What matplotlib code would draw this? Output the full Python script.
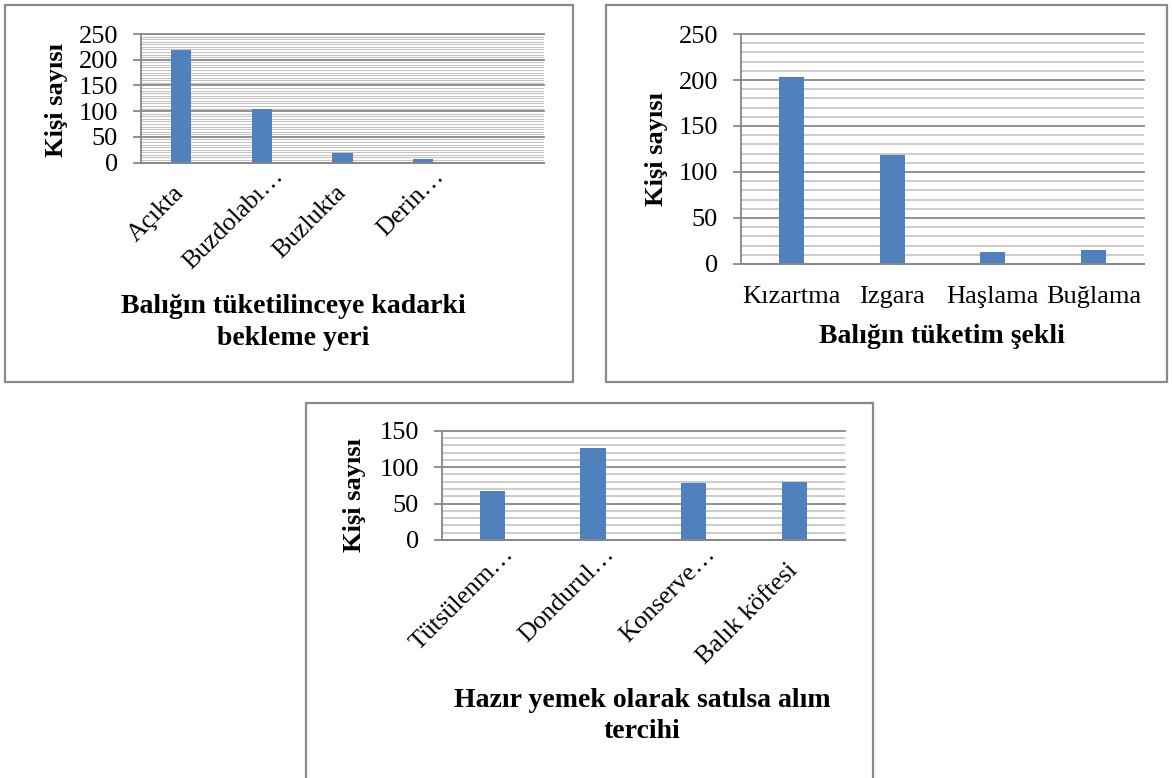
import matplotlib.pyplot as plt
import numpy as np
from matplotlib.ticker import MultipleLocator
from matplotlib.transforms import ScaledTranslation
from matplotlib.patches import Rectangle

plt.rcParams['font.family'] = ['Liberation Serif', 'DejaVu Serif']

# data
bekleme_yeri = ['Açıkta', 'Buzdolabı…', 'Buzlukta', 'Derin…']
bekleme_sayi = [218, 104, 18, 7]
tuketim_sekli = ['Kızartma', 'Izgara', 'Haşlama', 'Buğlama']
tuketim_sayi = [203, 119, 13, 15]
hazir_yemek = ['Tütsülenm…', 'Dondurul…', 'Konserve…', 'Balık köftesi']
hazir_sayi = [67, 126, 78, 79]

W, H = 1172, 778
fig = plt.figure(figsize=(W / 100, H / 100), dpi=100)

BLUE = '#4f81bd'
GRID_MAJ = '#878787'
GRID_MIN = '#c4c4c4'


def fx(x):
    return x / W


def fy(y):
    return 1 - y / H


def px_axes(l, t, r, b):
    return fig.add_axes([fx(l), fy(b), (r - l) / W, (b - t) / H])


def panel(l, t, r, b):
    fig.add_artist(Rectangle((fx(l), fy(b)), (r - l) / W, (b - t) / H,
                             transform=fig.transFigure, fill=False,
                             edgecolor='#8a8a8a', lw=1.6))


def bar_chart(ax, cats, vals, ymax, major, minor, n_slots, minor_lw=1.2):
    x = np.arange(len(cats))
    ax.set_axisbelow(True)
    ax.bar(x, vals, width=0.25, color=BLUE, zorder=2)
    ax.set_xlim(-0.5, n_slots - 0.5)
    ax.set_ylim(0, ymax)
    ax.yaxis.set_major_locator(MultipleLocator(major))
    ax.yaxis.set_minor_locator(MultipleLocator(minor))
    ax.grid(which='minor', axis='y', color=GRID_MIN, lw=minor_lw)
    ax.grid(which='major', axis='y', color=GRID_MAJ, lw=1.3)
    for gl in ax.get_ygridlines():
        gl.set_clip_on(False)
    for s in ['top', 'right']:
        ax.spines[s].set_visible(False)
    for s in ['left', 'bottom']:
        ax.spines[s].set_color(GRID_MAJ)
        ax.spines[s].set_linewidth(1.3)
    ax.tick_params(axis='y', which='major', length=6, width=1.3,
                   color=GRID_MAJ, pad=10.5, labelsize=19)
    ax.tick_params(axis='y', which='minor', length=0)
    ax.tick_params(axis='x', length=0)
    ax.set_xticks(x)


def rotated_labels(ax, cats):
    ax.set_xticklabels(cats, rotation=45, ha='right', va='baseline',
                       rotation_mode='anchor', fontsize=18.5)
    ax.tick_params(axis='x', pad=0)
    for lab in ax.get_xticklabels():
        if lab.get_text().endswith('…'):
            dx, dy = 22, 15
        else:
            dx, dy = 4, 31
        lab.set_transform(lab.get_transform() +
                          ScaledTranslation(dx / 100, -dy / 100, fig.dpi_scale_trans))


def ylabel(x, y):
    fig.text(fx(x), fy(y), 'Kişi sayısı', rotation=90, ha='center', va='center',
             fontsize=19, fontweight='bold')


def title_line(x, y, s):
    fig.text(fx(x), fy(y), s, ha='center', va='baseline', fontsize=20,
             fontweight='bold')


# panel 1
panel(5, 4.7, 573, 382)
ax1 = px_axes(141, 34, 544, 162.5)
bar_chart(ax1, bekleme_yeri, bekleme_sayi, 250, 50, 5, 5, minor_lw=0.8)
rotated_labels(ax1, bekleme_yeri)
ylabel(56, 100)
title_line(293, 313, 'Balığın tüketilinceye kadarki')
title_line(293, 345, 'bekleme yeri')

# panel 2
panel(606, 4.7, 1167, 382)
ax2 = px_axes(741, 34, 1144, 264)
bar_chart(ax2, tuketim_sekli, tuketim_sayi, 250, 50, 10, 4)
ax2.set_xticklabels(tuketim_sekli, fontsize=19)
ax2.tick_params(axis='x', pad=16)
ylabel(656.5, 149)
title_line(942, 343, 'Balığın tüketim şekli')

# panel 3
panel(306, 402.7, 873, 800)
ax3 = px_axes(441.7, 430.7, 845, 540)
bar_chart(ax3, hazir_yemek, hazir_sayi, 150, 50, 10, 4)
rotated_labels(ax3, hazir_yemek)
ylabel(355, 495)
title_line(642, 707, 'Hazır yemek olarak satılsa alım')
title_line(642, 738, 'tercihi')

fig.savefig('out.png', dpi=100)
